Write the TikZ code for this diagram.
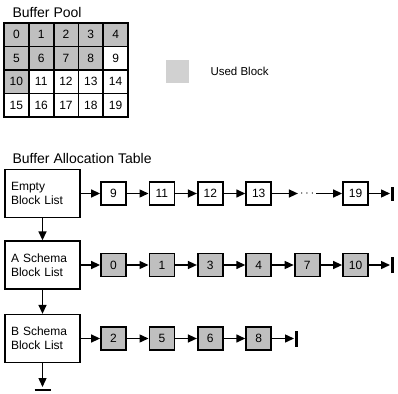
\documentclass[tikz,border=0pt]{standalone}
\usepackage{fontspec}
\setmainfont{Liberation Sans}
\usetikzlibrary{arrows.meta}

\begin{document}
\begin{tikzpicture}[x=1pt,y=-1pt,
  every node/.style={font=\fontsize{12}{14}\selectfont},
  pool/.style={draw,line width=1.8pt,minimum width=24.8pt,minimum height=23.5pt,inner sep=0pt},
  poolused/.style={pool,fill=black!25},
  listhead/.style={draw,line width=1.3pt,minimum width=75pt,minimum height=48pt,text width=63pt,align=left,inner sep=0pt},
  blk/.style={draw,line width=1.8pt,minimum width=25pt,minimum height=23pt,inner sep=0pt},
  blkused/.style={blk,fill=black!25},
  ptr/.style={-{Triangle[length=9pt,width=8pt]},line width=1.4pt},
  nil/.style={line width=3pt}]
\useasboundingbox (0,0) rectangle (398,393);
% titles
\node[anchor=base west,font=\fontsize{14}{16}\selectfont] (pooltitle) at (9,18) {Buffer Pool};
\node[anchor=base west,font=\fontsize{14}{16}\selectfont] (battitle) at (9,163) {Buffer Allocation Table};
% buffer pool, 4 rows of 5 blocks
\node[poolused] (p0) at (16.4,34.75) {0};
\node[poolused] (p1) at (41.2,34.75) {1};
\node[poolused] (p2) at (66,34.75) {2};
\node[poolused] (p3) at (90.8,34.75) {3};
\node[poolused] (p4) at (115.6,34.75) {4};
\node[poolused] (p5) at (16.4,58.25) {5};
\node[poolused] (p6) at (41.2,58.25) {6};
\node[poolused] (p7) at (66,58.25) {7};
\node[poolused] (p8) at (90.8,58.25) {8};
\node[pool] (p9) at (115.6,58.25) {9};
\node[poolused] (p10) at (16.4,81.75) {10};
\node[pool] (p11) at (41.2,81.75) {11};
\node[pool] (p12) at (66,81.75) {12};
\node[pool] (p13) at (90.8,81.75) {13};
\node[pool] (p14) at (115.6,81.75) {14};
\node[pool] (p15) at (16.4,105.25) {15};
\node[pool] (p16) at (41.2,105.25) {16};
\node[pool] (p17) at (66,105.25) {17};
\node[pool] (p18) at (90.8,105.25) {18};
\node[pool] (p19) at (115.6,105.25) {19};
% legend
\node[fill=black!18,minimum width=23pt,minimum height=23pt,inner sep=0pt] (key) at (177.5,71.5) {};
\node[anchor=base west,font=\fontsize{11.5}{13}\selectfont] (keytext) at (207,76) {Used Block};
% list heads
\node[listhead] (empty) at (42.5,193.5) {Empty\\Block List};
\node[listhead] (aschema) at (42.5,265) {A Schema\\Block List};
\node[listhead] (bschema) at (42.5,338.5) {B Schema\\Block List};
% empty list
\node[blk] (e9) at (113.5,193.5) {9};
\node[blk] (e11) at (161.9,193.5) {11};
\node[blk] (e12) at (210.3,193.5) {12};
\node[blk] (e13) at (258.7,193.5) {13};
\node[inner sep=2pt] (edots) at (307.1,193.5) {$\cdots$};
\node[blk] (e19) at (355.5,193.5) {19};
\coordinate (enil) at (390,193.5);
% A schema list
\node[blkused] (a0) at (113.5,265) {0};
\node[blkused] (a1) at (161.9,265) {1};
\node[blkused] (a3) at (210.3,265) {3};
\node[blkused] (a4) at (258.7,265) {4};
\node[blkused] (a7) at (307.1,265) {7};
\node[blkused] (a10) at (355.5,265) {10};
\coordinate (anil) at (390,265);
% B schema list
\node[blkused] (b2) at (113.5,338.5) {2};
\node[blkused] (b5) at (161.9,338.5) {5};
\node[blkused] (b6) at (210.3,338.5) {6};
\node[blkused] (b8) at (258.7,338.5) {8};
\coordinate (bnil) at (294,338.5);
\coordinate (gnd) at (42.5,387);
% links
\draw[ptr] (empty) -- (aschema);
\draw[ptr] (aschema) -- (bschema);
\draw[ptr] (bschema) -- (gnd);
\draw[line width=1.5pt] ([xshift=-8pt,yshift=-3pt]gnd) -- ([xshift=8pt,yshift=-3pt]gnd);
\draw[ptr] (empty) -- (e9);
\draw[ptr] (e9) -- (e11);
\draw[ptr] (e11) -- (e12);
\draw[ptr] (e12) -- (e13);
\draw[ptr] (e13) -- (edots);
\draw[ptr] (edots) -- (e19);
\draw[ptr] (e19) -- (enil);
\draw[nil] ([xshift=2pt,yshift=-7pt]enil) -- ([xshift=2pt,yshift=7pt]enil);
\draw[ptr] (aschema) -- (a0);
\draw[ptr] (a0) -- (a1);
\draw[ptr] (a1) -- (a3);
\draw[ptr] (a3) -- (a4);
\draw[ptr] (a4) -- (a7);
\draw[ptr] (a7) -- (a10);
\draw[ptr] (a10) -- (anil);
\draw[nil] ([xshift=2pt,yshift=-8pt]anil) -- ([xshift=2pt,yshift=8pt]anil);
\draw[ptr] (bschema) -- (b2);
\draw[ptr] (b2) -- (b5);
\draw[ptr] (b5) -- (b6);
\draw[ptr] (b6) -- (b8);
\draw[ptr] (b8) -- (bnil);
\draw[nil] ([xshift=2pt,yshift=-8pt]bnil) -- ([xshift=2pt,yshift=8pt]bnil);
\end{tikzpicture}
\end{document}
